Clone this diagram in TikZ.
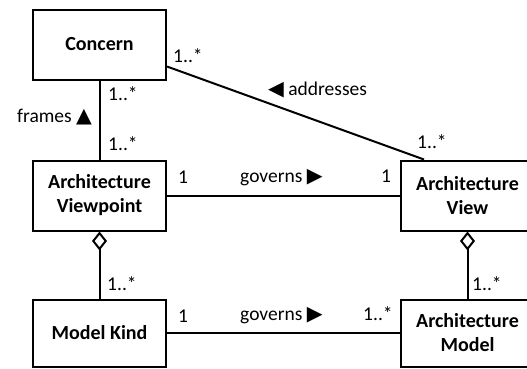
\documentclass[tikz,border=0pt]{standalone}
\usepackage{fontspec}
\setmainfont{Carlito}
\newfontfamily\symfont{DejaVu Sans}
\newcommand\tri[1]{{\symfont\fontsize{20.5}{20.5}\selectfont #1}}
\usetikzlibrary{arrows.meta,
                positioning}

\begin{document}
\begin{tikzpicture}[
            x = 1pt, y = -1pt,
            node distance = 79pt and 233pt,
            font = \fontsize{19.5}{23.5}\selectfont,
            cls/.style = {draw, line width=2pt, minimum width=133pt,
                    minimum height=70pt, inner sep=0pt, align=center,
                    font=\fontsize{20}{24}\selectfont\bfseries},
            low/.style = {cls, minimum height=67pt},
            mult/.style = {anchor=base west, inner sep=0pt},
            assoc/.style = {line width=2pt},
            aggr/.style = {assoc,
                    {Diamond[open, length=19pt, width=15pt, line width=2pt]}-}]

        \clip (0,0) rectangle (527,368);

        \node [cls] (concern) at (99.5,44.5) {Concern};
        \node [cls, below=of concern]          (viewpoint) {Architecture\\Viewpoint};
        \node [low, below=67pt of viewpoint]   (kind)      {Model Kind};
        \node [cls, right=of viewpoint]        (view)      {Architecture\\View};
        \node [low, right=of kind]             (model)     {Architecture\\Model};

        % Connectors
        \draw [assoc] (concern) -- (viewpoint);
        \draw [assoc] ([yshift=14pt] concern.south east)
                      -- ([xshift=24pt] view.north west);
        \draw [assoc] (viewpoint) -- (view);
        \draw [assoc] (kind) -- (model);
        \draw [aggr]  (viewpoint) -- (kind);
        \draw [aggr]  (view) -- (model);

        % Labels
        \node [mult] (m-1) at (173,62)  {1..*};
        \node [mult] (m-2) at (108,100) {1..*};
        \node [mult] (m-3) at (108,150) {1..*};
        \node [mult] (frames) at (17,122) {frames \tri{▲}};
        \node [mult] (addr) at (268,95) {\tri{◀} addresses};
        \node [mult] (m-4) at (417,148) {1..*};
        \node [mult] (m-5) at (178,183) {1};
        \node [mult] (gov-1) at (240,182) {governs \tri{▶}};
        \node [mult] (m-6) at (381,182) {1};
        \node [mult] (m-7) at (107,290) {1..*};
        \node [mult] (m-8) at (472,290) {1..*};
        \node [mult] (m-9) at (178,322) {1};
        \node [mult] (gov-2) at (240,320) {governs \tri{▶}};
        \node [mult] (m-10) at (363,320) {1..*};
    \end{tikzpicture}
\end{document}
